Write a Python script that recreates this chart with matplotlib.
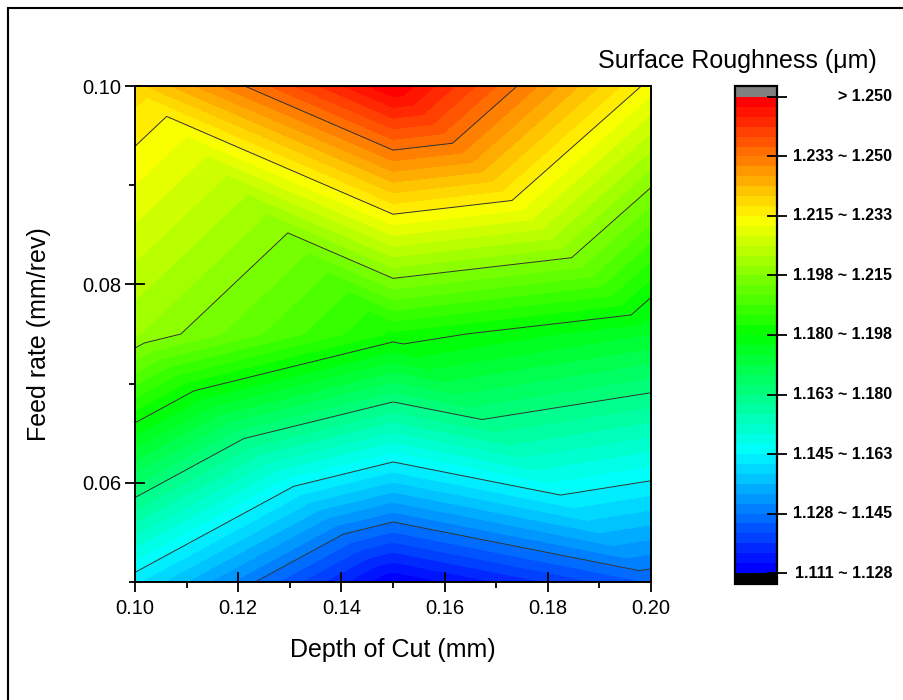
import numpy as np
import matplotlib
matplotlib.use('Agg')
import matplotlib.pyplot as plt
import matplotlib.tri as mtri
import matplotlib.transforms as mtransforms
from matplotlib.colors import LinearSegmentedColormap, ListedColormap, BoundaryNorm
from matplotlib.patches import Rectangle
from matplotlib.ticker import MultipleLocator, FormatStrFormatter

plt.rcParams['font.family'] = ['Liberation Sans', 'DejaVu Sans']

# measured surface roughness on the depth x feed grid
depth = [0.10, 0.15, 0.20]
feed = [0.05, 0.075, 0.10]
roughness = [
    [1.1432, 1.1106, 1.1254],   # feed 0.05
    [1.2010, 1.1826, 1.1745],   # feed 0.075
    [1.2197, 1.2500, 1.2138],   # feed 0.10
]

x_ticks = [0.10, 0.12, 0.14, 0.16, 0.18, 0.20]
y_ticks = [0.06, 0.08, 0.10]

X, Y = np.meshgrid(depth, feed)
Z = np.array(roughness)

# triangulate the grid, diagonals from upper-left to lower-right
nx = len(depth)
tris = []
for j in range(len(feed) - 1):
    for i in range(nx - 1):
        bl = j * nx + i
        br = bl + 1
        tl = bl + nx
        tr = tl + 1
        tris.append([bl, br, tl])
        tris.append([br, tr, tl])
tri = mtri.Triangulation(X.ravel(), Y.ravel(), tris)

major = np.linspace(Z.min(), Z.max(), 9)
fine = np.linspace(Z.min(), Z.max(), 49)

base = LinearSegmentedColormap.from_list(
    'rainbow5', ['#0000ff', '#00ffff', '#00ff00', '#ffff00', '#ff0000'])
cmap = ListedColormap(base(np.linspace(0, 1, 48)))
cmap.set_over('#808080')
cmap.set_under('#000000')
norm = BoundaryNorm(fine, 48)

fig = plt.figure(figsize=(9.04, 7.0), dpi=100)
ax = fig.add_axes([135 / 904, 1 - 582 / 700, 516 / 904, 496 / 700])

cs = ax.tricontourf(tri, Z.ravel(), levels=fine, cmap=cmap, norm=norm, extend='both')
ax.tricontour(tri, Z.ravel(), levels=major, colors='#333333', linewidths=0.7)

ax.set_xlim(0.10, 0.20)
ax.set_ylim(0.05, 0.10)
ax.set_xticks(x_ticks)
ax.set_yticks(y_ticks)
ax.xaxis.set_minor_locator(MultipleLocator(0.01))
ax.yaxis.set_minor_locator(MultipleLocator(0.01))
ax.xaxis.set_major_formatter(FormatStrFormatter('%.2f'))
ax.yaxis.set_major_formatter(FormatStrFormatter('%.2f'))
ax.tick_params(which='major', direction='inout', length=14, width=1.3,
               labelsize=14.5, pad=3)
ax.tick_params(axis='x', which='major', pad=5)
ax.tick_params(which='minor', direction='out', length=4.5, width=1.3)
for s in ax.spines.values():
    s.set_linewidth(1.4)

ax.set_xlabel('Depth of Cut (mm)', fontsize=18, labelpad=15)
ax.set_ylabel('Feed rate (mm/rev)', fontsize=18, labelpad=22)

# colour scale
cax = fig.add_axes([735 / 904, 1 - 583.5 / 700, 42 / 904, 497 / 700])
cb = fig.colorbar(cs, cax=cax, extend='both', extendrect=True,
                  extendfrac=0.022, ticks=major)
cb.minorticks_off()
cb.outline.set_linewidth(1.6)
cax.tick_params(direction='inout', length=14, width=1.3, labelright=False)

labels = ['%.3f ~ %.3f' % (lo, hi) for lo, hi in zip(major[:-1], major[1:])]
labels.append('> %.3f' % major[-1])
trans = mtransforms.blended_transform_factory(fig.transFigure, cax.transData)
for lev, lab in zip(major, labels):
    cax.text(892 / 904, lev, lab, transform=trans, ha='right', va='center',
             fontsize=11.5, fontweight='bold', clip_on=False)

fig.text(737 / 904, 1 - 61 / 700, 'Surface Roughness (\u03bcm)', fontsize=18,
         ha='center', va='center')

# outer frame (left and top edges only visible)
fig.add_artist(Rectangle((7.5 / 904, -0.5), 2, 1.5 - 7.5 / 700, fill=False,
                         edgecolor='black', linewidth=1.5,
                         transform=fig.transFigure, clip_on=False))

fig.savefig('out.png', dpi=100)
